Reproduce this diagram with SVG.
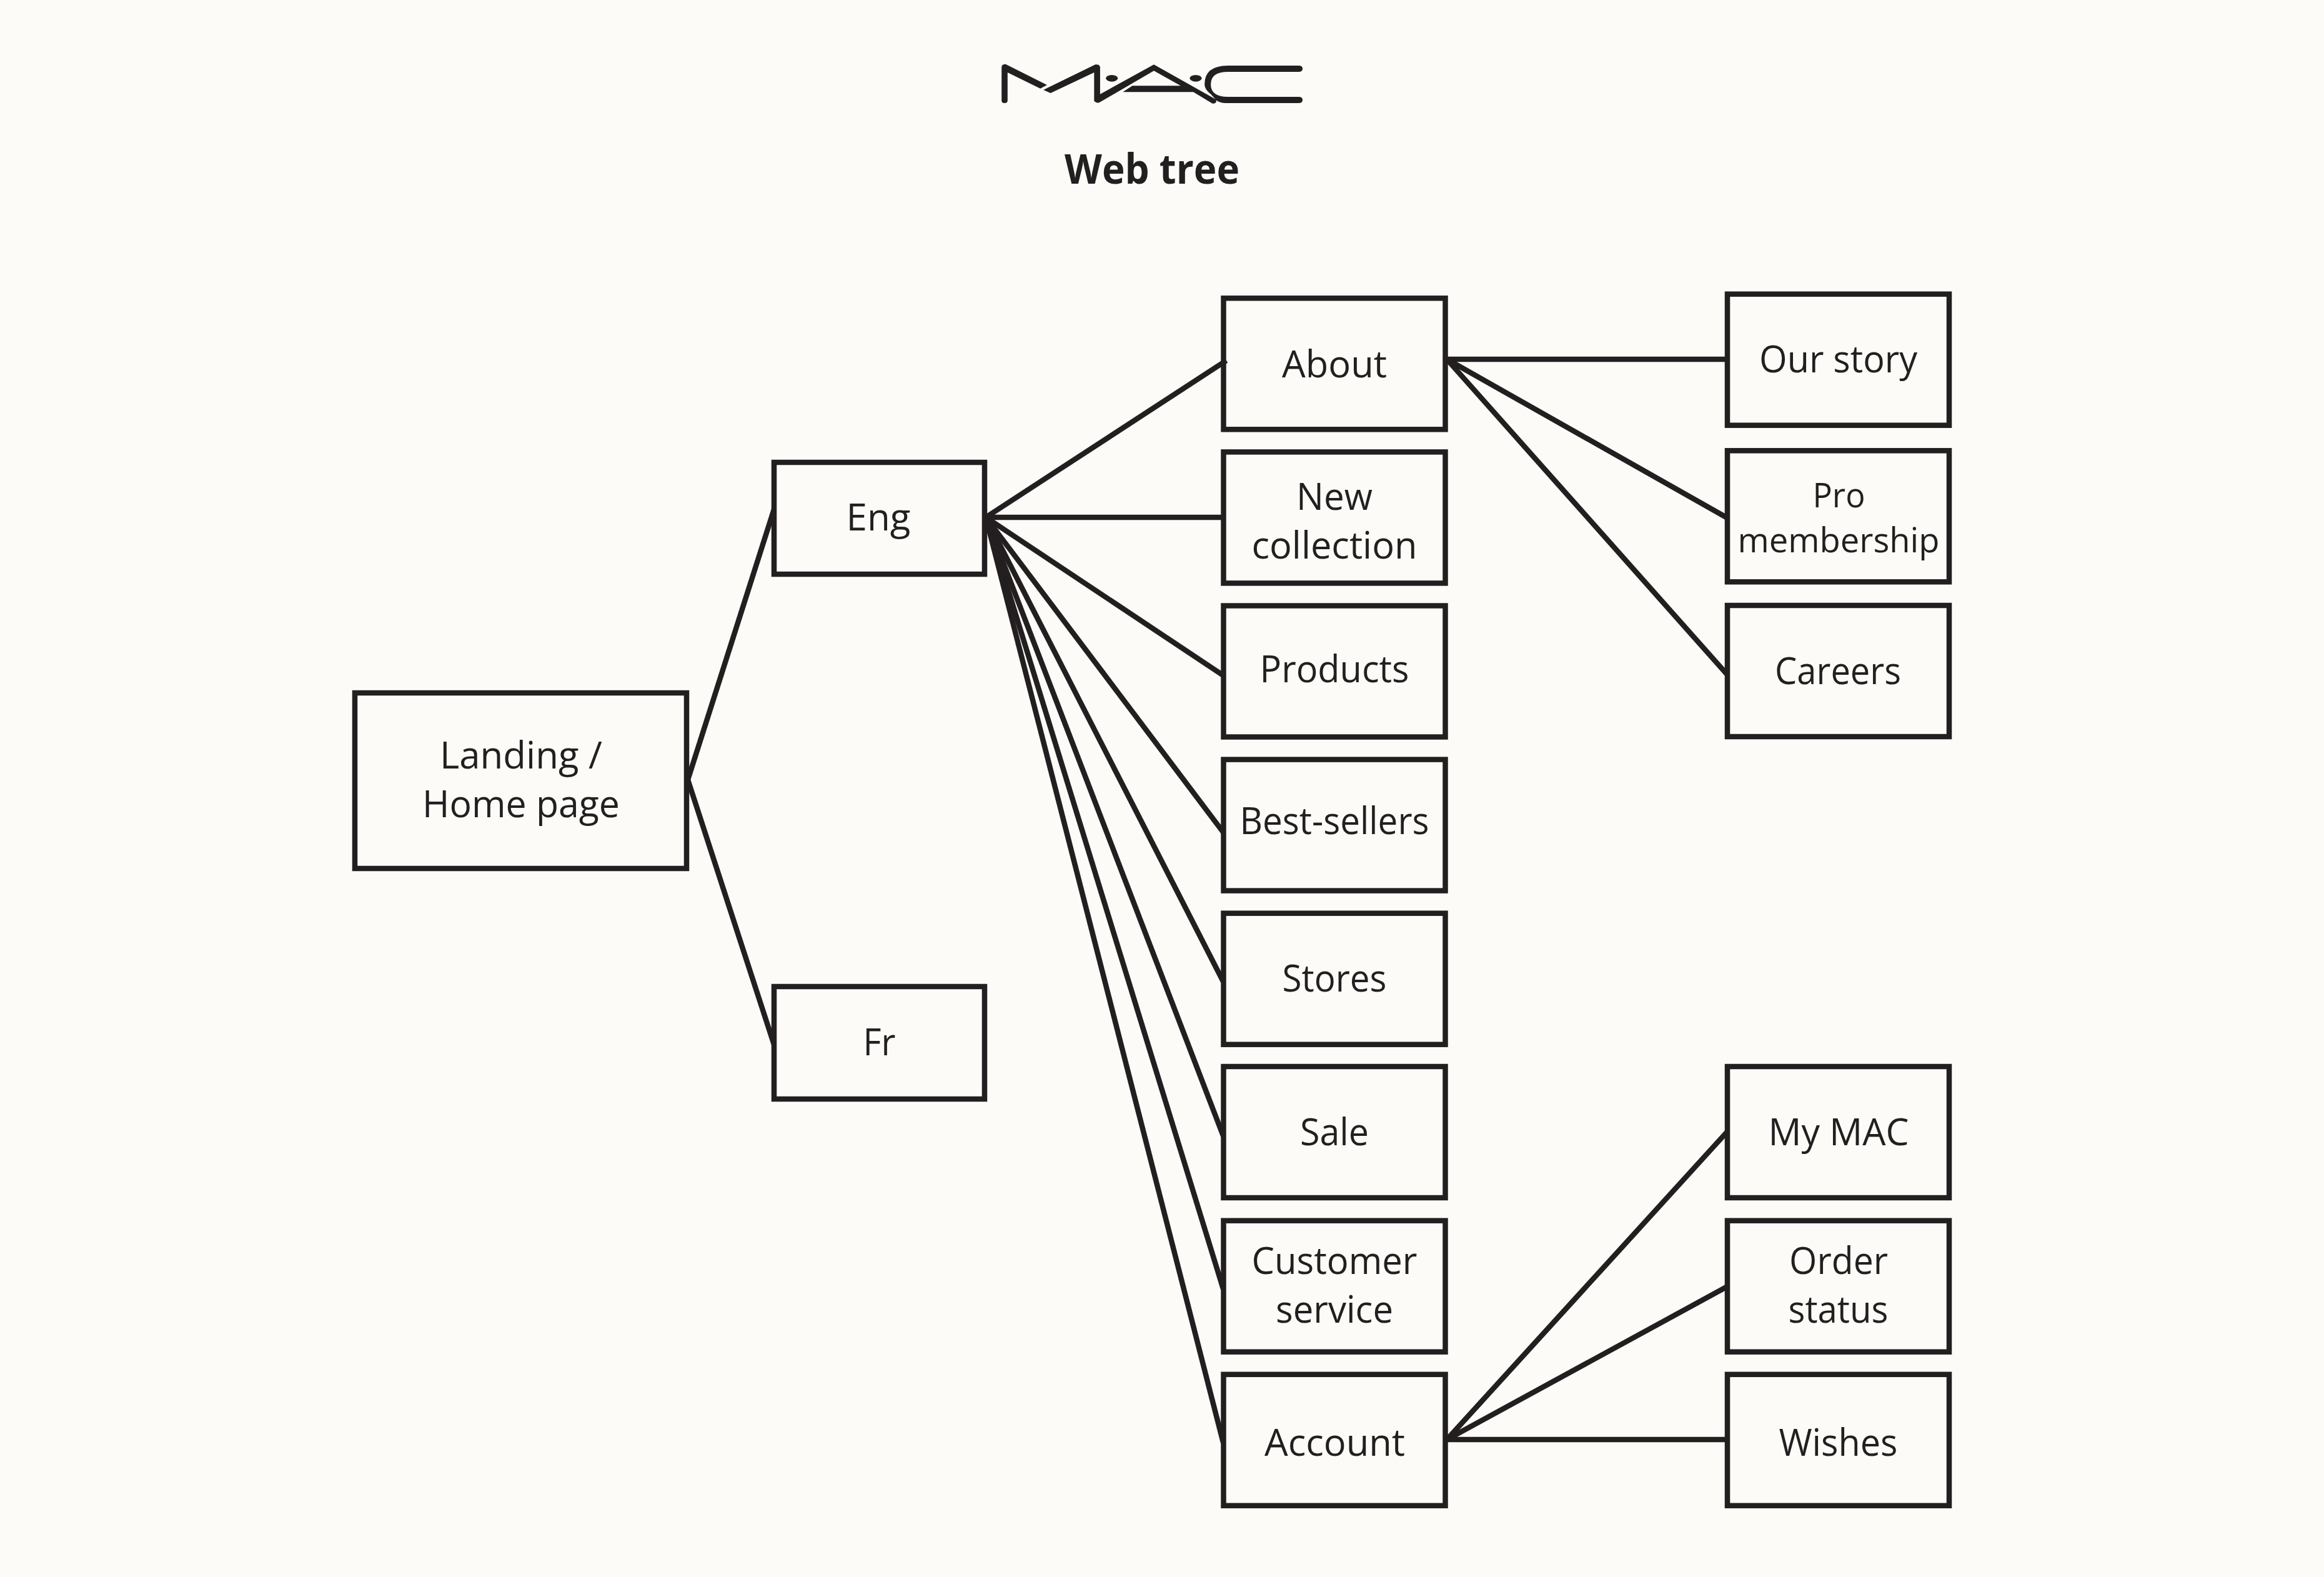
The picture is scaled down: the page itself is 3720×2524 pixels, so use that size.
<svg xmlns="http://www.w3.org/2000/svg" width="3720" height="2524" viewBox="0 0 3720 2524">
<style>
.bg{fill:#fcfbf7}
.box{fill:none;stroke:#231f20;stroke-width:8.5}
.ln{fill:none;stroke:#231f20;stroke-width:8.5;stroke-linecap:butt}
.logo{fill:#231f20}
text{font-family:"Open Sans","Noto Sans","Liberation Sans",sans-serif;fill:#231f20;text-anchor:middle}
.t{font-size:61px}
.s{font-size:55px}
.h{font-size:67px;font-weight:700}
</style>
<rect class="bg" width="3720" height="2524"/>
<g id="logo" class="logo" transform="translate(1560 60) scale(.3827 .3333)">
<path d="M113,302 L113,142 Q113,128 130,128 L303,228 L275,245 L138,168 L138,302 Q138,315 125,315 Q113,315 113,302 Z"/>
<path d="M288,252 L303,243 L505,130 Q525,128 525,145 L525,272 L750,130 L1010,298 Q1015,318 995,317 L915,262 L620,262 L660,232 L862,232 L750,160 L522,312 Q512,318 500,305 L500,168 L318,267 Z"/>
<path d="M1355,135 Q1372,135 1372,150 Q1372,165 1355,165 L1060,165 Q988,165 988,225 Q988,285 1060,285 L1355,285 Q1372,285 1372,300 Q1372,315 1355,315 L1050,315 Q1030,315 1012,302 L988,272 Q962,250 962,225 Q962,135 1060,135 Z"/>
<ellipse cx="574" cy="196" rx="25" ry="16"/>
<ellipse cx="925" cy="196" rx="25" ry="16"/>
</g>
<text id="title" class="h" x="1844" y="294" textLength="280" lengthAdjust="spacingAndGlyphs">Web tree</text>
<g id="connectors">
<path class="ln" d="M1101,1248 L1239,815"/>
<path class="ln" d="M1101,1248 L1239,1672"/>
<path class="ln" d="M1578,828 L1963,577"/>
<path class="ln" d="M1578,828 L1958,828"/>
<path class="ln" d="M1578,828 L1958,1081"/>
<path class="ln" d="M1578,828 L1958,1332"/>
<path class="ln" d="M1578,828 L1958,1571"/>
<path class="ln" d="M1578,828 L1958,1818"/>
<path class="ln" d="M1578,828 L1958,2063"/>
<path class="ln" d="M1578,828 L1958,2309"/>
<path class="ln" d="M2316,575 L2765,575"/>
<path class="ln" d="M2316,575 L2765,829"/>
<path class="ln" d="M2316,575 L2765,1080"/>
<path class="ln" d="M2316,2304 L2765,1811"/>
<path class="ln" d="M2316,2304 L2765,2059"/>
<path class="ln" d="M2316,2304 L2765,2304"/>
</g>
<g id="landing"><rect class="box" x="568" y="1109" width="531" height="281"/>
<text class="t" x="834" y="1230" textLength="260" lengthAdjust="spacingAndGlyphs">Landing /</text>
<text class="t" x="834" y="1308" textLength="316" lengthAdjust="spacingAndGlyphs">Home page</text></g>
<g id="eng"><rect class="box" x="1239" y="740" width="337" height="179"/>
<text class="t" x="1406" y="849" textLength="103" lengthAdjust="spacingAndGlyphs">Eng</text></g>
<g id="fr"><rect class="box" x="1239" y="1579" width="337" height="180"/>
<text class="t" x="1407.5" y="1689" textLength="52" lengthAdjust="spacingAndGlyphs">Fr</text></g>
<g id="about"><rect class="box" x="1958.5" y="477.3" width="355" height="210"/>
<text class="t" x="2136" y="604" textLength="168" lengthAdjust="spacingAndGlyphs">About</text></g>
<g id="new-collection"><rect class="box" x="1958.5" y="723.4" width="355" height="210"/>
<text class="t" x="2136" y="816" textLength="122" lengthAdjust="spacingAndGlyphs">New</text>
<text class="t" x="2136" y="894" textLength="265" lengthAdjust="spacingAndGlyphs">collection</text></g>
<g id="products"><rect class="box" x="1958.5" y="969.5" width="355" height="210"/>
<text class="t" x="2136" y="1092" textLength="239" lengthAdjust="spacingAndGlyphs">Products</text></g>
<g id="best-sellers"><rect class="box" x="1958.5" y="1215.6" width="355" height="210"/>
<text class="t" x="2136" y="1335" textLength="303" lengthAdjust="spacingAndGlyphs">Best-sellers</text></g>
<g id="stores"><rect class="box" x="1958.5" y="1461.7" width="355" height="210"/>
<text class="t" x="2136" y="1587" textLength="167" lengthAdjust="spacingAndGlyphs">Stores</text></g>
<g id="sale"><rect class="box" x="1958.5" y="1707" width="355" height="210"/>
<text class="t" x="2136" y="1833" textLength="110" lengthAdjust="spacingAndGlyphs">Sale</text></g>
<g id="customer-service"><rect class="box" x="1958.5" y="1953.7" width="355" height="210"/>
<text class="t" x="2136" y="2039" textLength="265" lengthAdjust="spacingAndGlyphs">Customer</text>
<text class="t" x="2136" y="2117" textLength="188" lengthAdjust="spacingAndGlyphs">service</text></g>
<g id="account"><rect class="box" x="1958.5" y="2199.8" width="355" height="210"/>
<text class="t" x="2136.5" y="2329.5" textLength="225" lengthAdjust="spacingAndGlyphs">Account</text></g>
<g id="our-story"><rect class="box" x="2765" y="470.7" width="355" height="210"/>
<text class="t" x="2942.5" y="595.5" textLength="253" lengthAdjust="spacingAndGlyphs">Our story</text></g>
<g id="pro-membership"><rect class="box" x="2765" y="721.3" width="355" height="210"/>
<text class="s" x="2943.5" y="812" textLength="84" lengthAdjust="spacingAndGlyphs">Pro</text>
<text class="s" x="2943" y="883.5" textLength="323" lengthAdjust="spacingAndGlyphs">membership</text></g>
<g id="careers"><rect class="box" x="2765" y="969" width="355" height="210"/>
<text class="t" x="2942" y="1094.5" textLength="202" lengthAdjust="spacingAndGlyphs">Careers</text></g>
<g id="my-mac"><rect class="box" x="2765" y="1707" width="355" height="210"/>
<text class="t" x="2943" y="1833" textLength="225" lengthAdjust="spacingAndGlyphs">My MAC</text></g>
<g id="order-status"><rect class="box" x="2765" y="1953.7" width="355" height="210"/>
<text class="t" x="2943" y="2039" textLength="158" lengthAdjust="spacingAndGlyphs">Order</text>
<text class="t" x="2942.5" y="2117" textLength="160" lengthAdjust="spacingAndGlyphs">status</text></g>
<g id="wishes"><rect class="box" x="2765" y="2199.8" width="355" height="210"/>
<text class="t" x="2942.5" y="2329.5" textLength="190" lengthAdjust="spacingAndGlyphs">Wishes</text></g>
</svg>
